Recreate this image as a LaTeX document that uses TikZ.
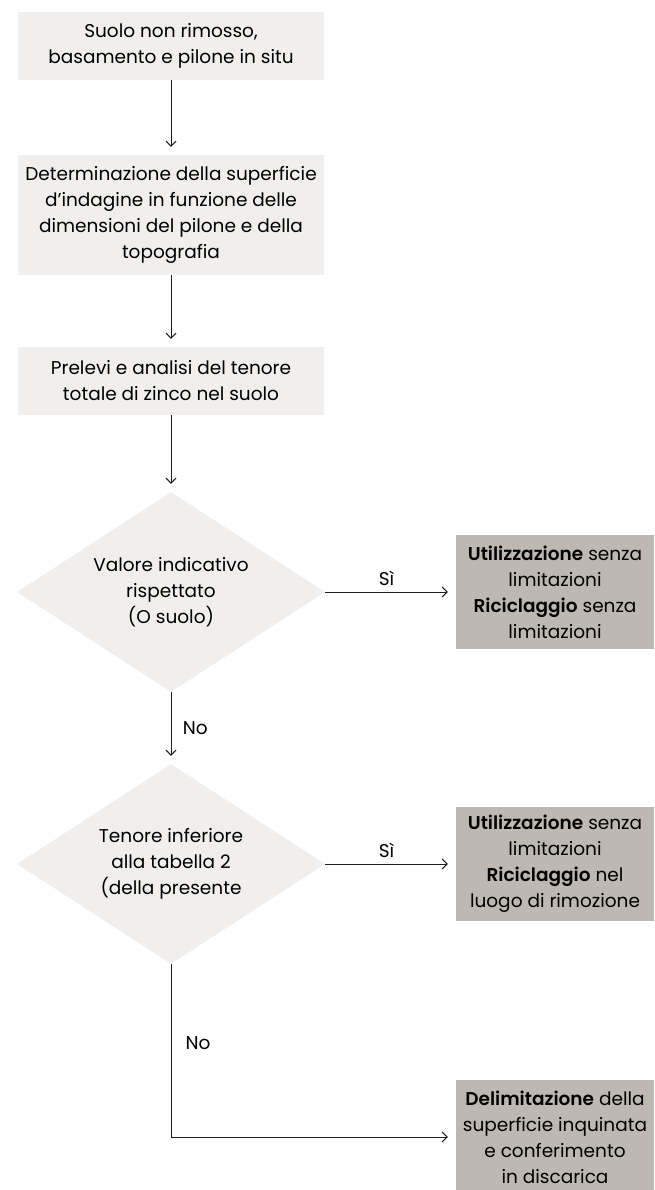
\documentclass[tikz,border=0pt]{standalone}
\usepackage{fontspec}
\setmainfont{Poppins}[BoldFont={Poppins SemiBold}]
\usetikzlibrary{shapes.geometric,arrows.meta}
\definecolor{lightbox}{RGB}{240,239,237}
\definecolor{darkbox}{RGB}{189,184,177}
\definecolor{lineclr}{RGB}{30,30,30}
\begin{document}
\begin{tikzpicture}[x=1pt,y=-1pt,
  every node/.style={font=\fontsize{18.5}{26}\selectfont, text=black},
  stepbox/.style={rectangle, fill=lightbox, minimum width=306pt, inner sep=0pt, align=center},
  resbox/.style={rectangle, fill=darkbox, minimum width=198pt, inner sep=0pt, align=center},
  decide/.style={diamond, fill=lightbox, minimum width=308pt, minimum height=200pt, shape aspect=1.54, inner sep=0pt, align=center},
  conn/.style={draw=lineclr, line width=1pt, -{Straight Barb[length=5pt,width=10pt]}, shorten >=8pt},
  lbl/.style={font=\fontsize{18.5}{22}\selectfont}
]
\useasboundingbox (0,0) rectangle (654,1190);

\node[stepbox, minimum height=68pt] (b1) at (171,46) {Suolo non rimosso,\\basamento e pilone in situ};
\node[stepbox, minimum height=120pt] (b2) at (171,215) {Determinazione della superficie\\d’indagine in funzione delle\\dimensioni del pilone e della\\topografia};
\node[stepbox, minimum height=68pt] (b3) at (171,381) {Prelevi e analisi del tenore\\totale di zinco nel suolo};
\node[decide] (d1) at (171,592) {Valore indicativo\\rispettato\\(O suolo)};
\node[decide] (d2) at (171,864) {Tenore inferiore\\alla tabella 2\\(della presente};

\node[resbox, minimum height=114pt] (r1) at (555,592) {\textbf{Utilizzazione} senza\\limitazioni\\\textbf{Riciclaggio} senza\\limitazioni};
\node[resbox, minimum height=114pt] (r2) at (555,864) {\textbf{Utilizzazione} senza\\limitazioni\\\textbf{Riciclaggio} nel\\luogo di rimozione};
\node[resbox, minimum height=114pt] (r3) at (555,1137) {\textbf{Delimitazione} della\\superficie inquinata\\e conferimento\\in discarica};

\coordinate (corner) at (171,1137);

\draw[conn] (b1.south) -- (b2.north);
\draw[conn] (b2.south) -- (b3.north);
\draw[conn] (b3.south) -- (d1.north);
\draw[conn] (d1.south) -- node[lbl, right=8pt, pos=0.5] (no1) {No} (d2.north);
\draw[conn] (d1.east) -- node[lbl, above=3pt, pos=0.47] (si1) {Sì} (r1.west);
\draw[conn] (d2.east) -- node[lbl, above=3pt, pos=0.47] (si2) {Sì} (r2.west);
\draw[conn] (d2.south) -- (corner) -- (r3.west);
\node[lbl, anchor=west] (no2) at (182,1043) {No};
\end{tikzpicture}
\end{document}
